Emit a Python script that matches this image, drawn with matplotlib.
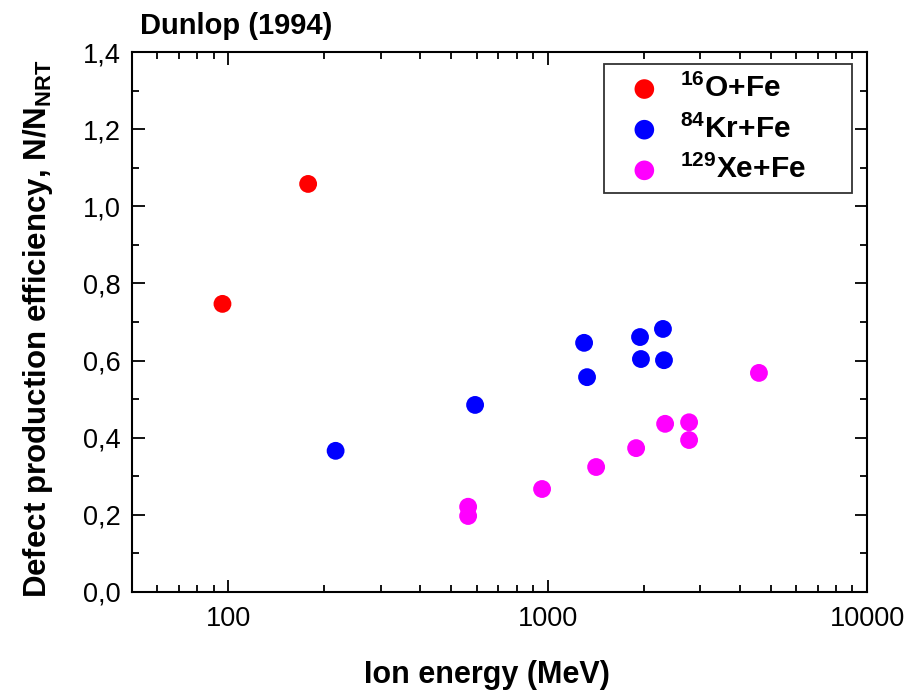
import matplotlib
matplotlib.use("Agg")
import matplotlib.pyplot as plt
from matplotlib.ticker import FuncFormatter, LogLocator, MultipleLocator, NullFormatter

plt.rcParams["font.family"] = ["Liberation Sans", "DejaVu Sans"]
plt.rcParams["mathtext.fontset"] = "custom"
plt.rcParams["mathtext.rm"] = "Liberation Sans"
plt.rcParams["mathtext.bf"] = "Liberation Sans:bold"

# Dunlop (1994): ion energy (MeV) vs defect production efficiency
o_energy = [96, 178]
o_eff = [0.747, 1.058]

kr_energy = [217, 593, 1301, 1329, 1947, 1960, 2297, 2314]
kr_eff = [0.366, 0.485, 0.646, 0.557, 0.661, 0.604, 0.682, 0.601]

xe_energy = [564, 564, 961, 1419, 1893, 2333, 2773, 2773, 4588]
xe_eff = [0.221, 0.197, 0.267, 0.324, 0.373, 0.436, 0.440, 0.394, 0.568]

series = [
    (o_energy, o_eff, "#ff0000", r"$^{\mathbf{16}}$O+Fe"),
    (kr_energy, kr_eff, "#0000ff", r"$^{\mathbf{84}}$Kr+Fe"),
    (xe_energy, xe_eff, "#ff00ff", r"$^{\mathbf{129}}$Xe+Fe"),
]

fig = plt.figure(figsize=(9.12, 6.91), dpi=100)
ax = fig.add_axes([0.1447, 0.1433, 0.806, 0.7814])

for x, y, c, lab in series:
    ax.scatter(x, y, s=165, color=c, edgecolors="none", label=lab, zorder=3)

ax.set_xscale("log")
ax.set_xlim(50, 10000)
ax.set_ylim(0, 1.4)

ax.xaxis.set_major_locator(LogLocator(base=10, numticks=10))
ax.xaxis.set_minor_locator(LogLocator(base=10, subs=range(2, 10), numticks=20))
ax.xaxis.set_minor_formatter(NullFormatter())
ax.xaxis.set_major_formatter(FuncFormatter(lambda v, p: f"{v:.0f}"))
ax.yaxis.set_major_locator(MultipleLocator(0.2))
ax.yaxis.set_minor_locator(MultipleLocator(0.1))
ax.yaxis.set_major_formatter(FuncFormatter(lambda v, p: f"{v:.1f}".replace(".", ",")))

ax.tick_params(which="both", direction="in", top=True, right=True, width=1.3,
               labelsize=19.5, colors="black")
ax.tick_params(which="major", length=9)
ax.tick_params(which="minor", length=5)
ax.tick_params(axis="x", which="major", pad=10)
ax.tick_params(axis="y", which="major", pad=8)
for sp in ax.spines.values():
    sp.set_linewidth(1.5)

# axis titles placed in figure coordinates
fig.text(487 / 912, 1 - 660 / 691, "Ion energy (MeV)", fontsize=22,
         fontweight="bold", ha="center", va="top")
fig.text(38 / 912, 1 - 329 / 691, r"Defect production efficiency, N/N$_{\mathbf{NRT}}$",
         fontsize=22.5, fontweight="bold", rotation=90, ha="center", va="center")
fig.text(140 / 912, 1 - 40 / 691, "Dunlop (1994)", fontsize=21,
         fontweight="bold", ha="left", va="bottom")

leg = ax.legend(loc="upper left", bbox_to_anchor=(0.6422, 0.7222, 0.3374, 0.2556),
                mode="expand", prop={"weight": "bold", "size": 21.5},
                frameon=True, fancybox=False, edgecolor="black",
                handletextpad=0.15, borderpad=0.3, labelspacing=0.36,
                handlelength=2.1, borderaxespad=0, markerscale=1.1)
leg.get_frame().set_linewidth(1.3)

fig.savefig("out.png", dpi=100)
